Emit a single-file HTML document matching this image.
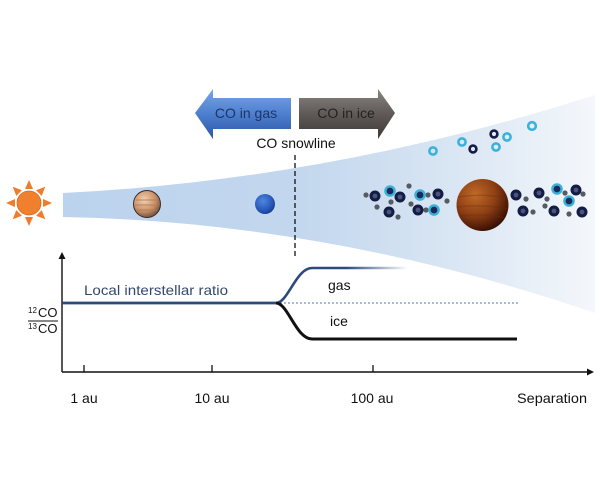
<!DOCTYPE html>
<html><head><meta charset="utf-8"><style>
html,body{margin:0;padding:0;background:#fff;}
svg{display:block;}
text{font-family:"Liberation Sans",sans-serif;}
</style></head><body>
<svg width="600" height="500" viewBox="0 0 600 500" xmlns="http://www.w3.org/2000/svg">
<defs>
<linearGradient id="disk" x1="63" y1="0" x2="595" y2="0" gradientUnits="userSpaceOnUse">
<stop offset="0" stop-color="#bcd3ee"/>
<stop offset="0.45" stop-color="#c3d7ee"/>
<stop offset="0.72" stop-color="#d8e5f3"/>
<stop offset="1" stop-color="#f4f7fb"/>
</linearGradient>
<linearGradient id="gasArrow" x1="0" y1="89" x2="0" y2="139" gradientUnits="userSpaceOnUse">
<stop offset="0" stop-color="#7aa6e6"/>
<stop offset="0.5" stop-color="#4d7fcf"/>
<stop offset="1" stop-color="#2c56a2"/>
</linearGradient>
<linearGradient id="iceArrow" x1="0" y1="89" x2="0" y2="139" gradientUnits="userSpaceOnUse">
<stop offset="0" stop-color="#8a8581"/>
<stop offset="0.5" stop-color="#5f5a57"/>
<stop offset="1" stop-color="#3c3836"/>
</linearGradient>
<radialGradient id="jup" cx="0.4" cy="0.35" r="0.7">
<stop offset="0" stop-color="#f2d2b0"/>
<stop offset="0.6" stop-color="#c99068"/>
<stop offset="1" stop-color="#6a4a3a"/>
</radialGradient>
<radialGradient id="nep" cx="0.4" cy="0.35" r="0.7">
<stop offset="0" stop-color="#4f86e0"/>
<stop offset="0.7" stop-color="#2656b8"/>
<stop offset="1" stop-color="#163a86"/>
</radialGradient>
<radialGradient id="big" cx="0.36" cy="0.3" r="0.78">
<stop offset="0" stop-color="#c06a28"/>
<stop offset="0.5" stop-color="#8e4014"/>
<stop offset="0.85" stop-color="#4a1806"/>
<stop offset="1" stop-color="#240a02"/>
</radialGradient>
<linearGradient id="gasLine" x1="270" y1="0" x2="408" y2="0" gradientUnits="userSpaceOnUse">
<stop offset="0" stop-color="#2c4a7c"/>
<stop offset="0.55" stop-color="#2c4a7c"/>
<stop offset="1" stop-color="#2c4a7c" stop-opacity="0"/>
</linearGradient>
</defs>

<!-- disk -->
<path d="M63,193 Q330,180 595,95 L595,313 Q330,222 63,217 Z" fill="url(#disk)"/>

<!-- sun -->
<g transform="translate(29,203)" fill="#ee7c2c">
<g id="ray"><polygon points="-4,-14 4,-14 0,-23"/></g>
<use href="#ray" transform="rotate(45)"/>
<use href="#ray" transform="rotate(90)"/>
<use href="#ray" transform="rotate(135)"/>
<use href="#ray" transform="rotate(180)"/>
<use href="#ray" transform="rotate(225)"/>
<use href="#ray" transform="rotate(270)"/>
<use href="#ray" transform="rotate(315)"/>
<circle r="12" fill="#f07f2e" stroke="#d56a1e" stroke-width="0.8"/>
</g>

<!-- jupiter -->
<circle cx="147" cy="204" r="13.5" fill="url(#jup)"/>
<g stroke="#b57a55" stroke-width="1.2" opacity="0.7">
<line x1="136" y1="200" x2="158" y2="200"/>
<line x1="135" y1="205" x2="159" y2="205"/>
<line x1="137" y1="210" x2="157" y2="210"/>
</g>
<circle cx="147" cy="204" r="13.5" fill="none" stroke="#3a2a25" stroke-width="1"/>

<!-- neptune -->
<circle cx="265" cy="204" r="10" fill="url(#nep)"/>

<!-- arrows -->
<polygon points="195,113 213,89 213,98 291,98 291,129 213,129 213,139" fill="url(#gasArrow)"/>
<text x="246" y="118" font-size="14" fill="#1e3566" text-anchor="middle">CO in gas</text>
<polygon points="299,98 378,98 378,89 395,113 378,139 378,129 299,129" fill="url(#iceArrow)"/>
<text x="346" y="118" font-size="14" fill="#222" text-anchor="middle">CO in ice</text>

<text x="296" y="148" font-size="14" fill="#111" text-anchor="middle">CO snowline</text>
<line x1="295" y1="155" x2="295" y2="258" stroke="#111" stroke-width="1.3" stroke-dasharray="5,3"/>

<!-- upper particles -->
<g fill="none" stroke-width="2.6">
<circle cx="433" cy="151" r="3.6" stroke="#3ab2da"/>
<circle cx="462" cy="142" r="3.6" stroke="#3ab2da"/>
<circle cx="473" cy="149" r="3.4" stroke="#141c44"/>
<circle cx="494" cy="134" r="3.4" stroke="#141c44"/>
<circle cx="507" cy="137" r="3.6" stroke="#3ab2da"/>
<circle cx="496" cy="147" r="3.6" stroke="#3ab2da"/>
<circle cx="532" cy="126" r="3.8" stroke="#3ab2da"/>
</g>

<!-- band particles -->
<g fill="#555b60">
<circle cx="366" cy="195" r="2.6"/>
<circle cx="391" cy="202" r="2.6"/>
<circle cx="377" cy="207" r="2.6"/>
<circle cx="398" cy="217" r="2.6"/>
<circle cx="409" cy="186" r="2.6"/>
<circle cx="428" cy="195" r="2.6"/>
<circle cx="411" cy="204" r="2.6"/>
<circle cx="426" cy="210" r="2.6"/>
<circle cx="447" cy="201" r="2.6"/>
<circle cx="526" cy="199" r="2.6"/>
<circle cx="533" cy="212" r="2.6"/>
<circle cx="547" cy="199" r="2.6"/>
<circle cx="545" cy="206" r="2.6"/>
<circle cx="565" cy="193" r="2.6"/>
<circle cx="583" cy="194" r="2.6"/>
<circle cx="569" cy="214" r="2.6"/>
</g>
<g fill="#141c44" stroke="#141c44" stroke-width="1">
<circle cx="375" cy="196" r="5"/>
<circle cx="400" cy="197" r="5"/>
<circle cx="389" cy="212" r="5"/>
<circle cx="438" cy="194" r="5"/>
<circle cx="418" cy="210" r="5"/>
<circle cx="516" cy="195" r="5"/>
<circle cx="523" cy="211" r="5"/>
<circle cx="539" cy="193" r="5"/>
<circle cx="554" cy="211" r="5"/>
<circle cx="576" cy="190" r="5"/>
<circle cx="582" cy="212" r="5"/>
</g>
<g fill="#4a557a">
<circle cx="375" cy="196" r="2.4"/>
<circle cx="400" cy="197" r="2.4"/>
<circle cx="389" cy="212" r="2.4"/>
<circle cx="438" cy="194" r="2.4"/>
<circle cx="418" cy="210" r="2.4"/>
<circle cx="516" cy="195" r="2.4"/>
<circle cx="523" cy="211" r="2.4"/>
<circle cx="539" cy="193" r="2.4"/>
<circle cx="554" cy="211" r="2.4"/>
<circle cx="576" cy="190" r="2.4"/>
<circle cx="582" cy="212" r="2.4"/>
</g>
<g fill="#1a2a5a" stroke="#3ab2da" stroke-width="2.4">
<circle cx="390" cy="191" r="4.6"/>
<circle cx="420" cy="195" r="4.6"/>
<circle cx="434" cy="210" r="4.6"/>
<circle cx="557" cy="189" r="4.6"/>
<circle cx="569" cy="201" r="4.6"/>
</g>

<!-- big planet -->
<circle cx="482.5" cy="205" r="26" fill="url(#big)"/>
<g stroke="#6a2a0a" stroke-width="1.5" opacity="0.3" fill="none">
<path d="M458,197 Q482,193 507,198"/>
<path d="M457,207 Q482,204 508,209"/>
<path d="M460,216 Q482,213 505,218"/>
</g>

<!-- graph axes -->
<line x1="62" y1="257" x2="62" y2="372" stroke="#111" stroke-width="1.4"/>
<polygon points="62,252 58.5,259 65.5,259" fill="#111"/>
<line x1="62" y1="372" x2="588" y2="372" stroke="#111" stroke-width="1.4"/>
<polygon points="594,372 587,368.5 587,375.5" fill="#111"/>
<g stroke="#111" stroke-width="1.3">
<line x1="84" y1="365" x2="84" y2="372"/>
<line x1="212" y1="365" x2="212" y2="372"/>
<line x1="373" y1="365" x2="373" y2="372"/>
</g>

<!-- curves -->
<line x1="280" y1="303" x2="519" y2="303" stroke="#7d8fb8" stroke-width="1.3" stroke-dasharray="2,2"/>
<path d="M62,303 L276,303 C288,303 296,268 312,268 L408,268" fill="none" stroke="url(#gasLine)" stroke-width="2.6"/>
<line x1="62" y1="303" x2="276" y2="303" stroke="#2c4a7c" stroke-width="2.6"/>
<path d="M276,303 C288,303 296,339 312,339 L517,339" fill="none" stroke="#111" stroke-width="3"/>

<!-- labels -->
<text x="84" y="295" font-size="14" fill="#34486e" textLength="144" lengthAdjust="spacingAndGlyphs">Local interstellar ratio</text>
<text x="328" y="290" font-size="14" fill="#111">gas</text>
<text x="330" y="326" font-size="14" fill="#111">ice</text>

<text x="28" y="313" font-size="8" fill="#111">12</text>
<text x="38" y="317" font-size="13" fill="#111">CO</text>
<line x1="28" y1="321" x2="58" y2="321" stroke="#111" stroke-width="1"/>
<text x="28" y="329" font-size="8" fill="#111">13</text>
<text x="38" y="333" font-size="13" fill="#111">CO</text>

<text x="84" y="403" font-size="14" fill="#111" text-anchor="middle">1 au</text>
<text x="212" y="403" font-size="14" fill="#111" text-anchor="middle">10 au</text>
<text x="372" y="403" font-size="14" fill="#111" text-anchor="middle">100 au</text>
<text x="517" y="403" font-size="14" fill="#111" textLength="70" lengthAdjust="spacingAndGlyphs">Separation</text>
</svg>
</body></html>
